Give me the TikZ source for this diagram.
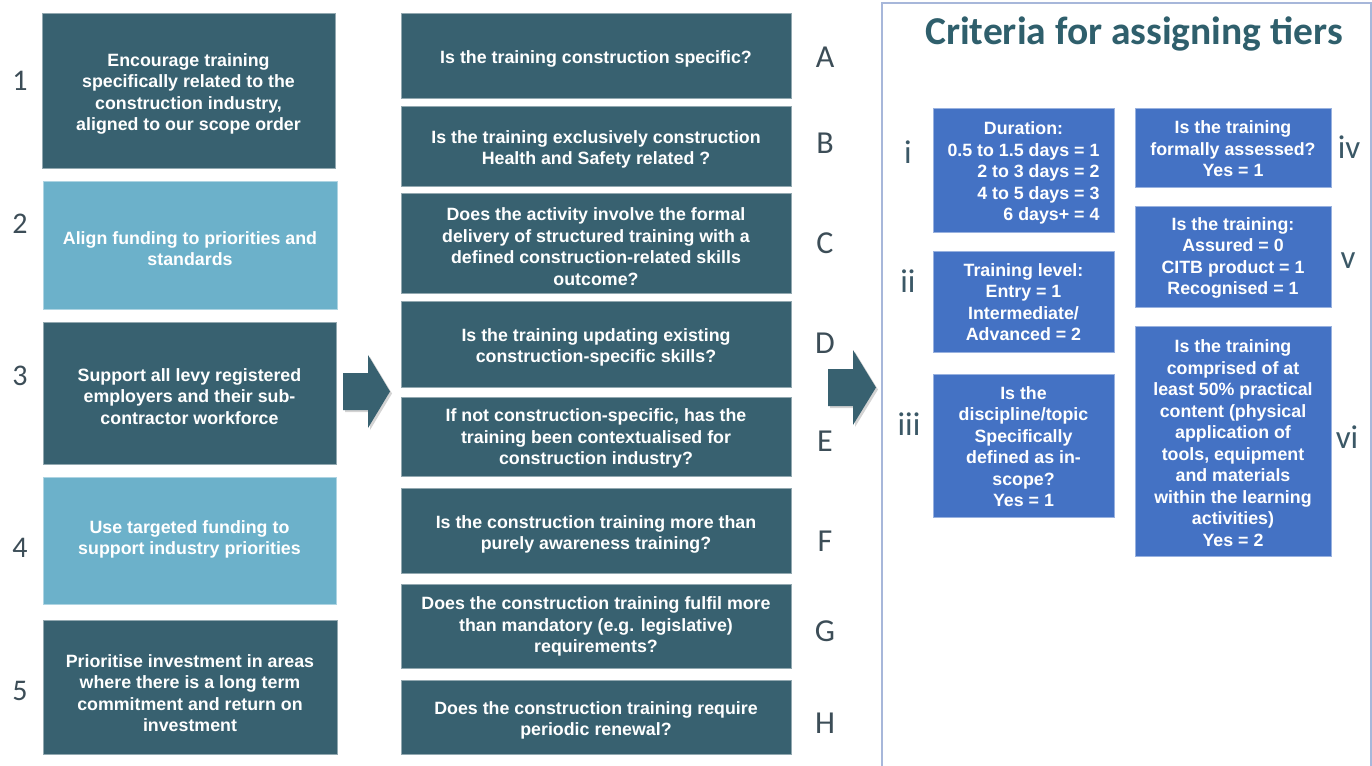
\documentclass[tikz,border=0pt]{standalone}
\usepackage{fontspec}
\setmainfont{Liberation Sans}
\newfontfamily\calib{Carlito}
\usetikzlibrary{shadows}
\definecolor{darkteal}{HTML}{386170}
\definecolor{lightteal}{HTML}{6CB1CA}
\definecolor{tierblue}{HTML}{4472C4}
\definecolor{titlecol}{HTML}{2F5F6C}
\definecolor{numcol}{HTML}{3C4D57}
\definecolor{romcol}{HTML}{3B5866}
\definecolor{panelborder}{HTML}{A7B7DA}
\begin{document}
\begin{tikzpicture}[x=1pt,y=-1pt,
  basebox/.style={rectangle, inner sep=0pt, line width=0.7pt},
  dbox/.style={basebox, fill=darkteal, draw=darkteal!55!white},
  lbox/.style={basebox, fill=lightteal, draw=lightteal!55!white},
  tbox/.style={basebox, fill=tierblue, draw=tierblue!55!white},
  boxtext/.style={inner sep=0pt, align=center, text=white,
    font=\bfseries\fontsize{17.8}{21.5}\selectfont},
  numlab/.style={anchor=base, text=numcol, font=\calib\fontsize{30}{36}\selectfont, inner sep=0pt},
  letlab/.style={anchor=base, text=numcol, font=\calib\fontsize{32}{38}\selectfont, inner sep=0pt},
  romlab/.style={anchor=base, text=romcol, font=\calib\fontsize{33}{38}\selectfont, inner sep=0pt},
  blockarrow/.style={fill=darkteal, drop shadow={shadow xshift=2pt, shadow yshift=-2pt, opacity=0.35}}
]
\useasboundingbox (0,0) rectangle (1372,765);

% left column
\node[dbox, minimum width=293, minimum height=155] (p1) at (188.5,90.5) {};
\node[boxtext] (p1t) at ([yshift=-3.5pt]p1.center)
  {Encourage training\\specifically related to the\\construction industry,\\aligned to our scope order};
\node[lbox, minimum width=294, minimum height=128] (p2) at (190,245) {};
\node[boxtext] (p2t) at ([yshift=-3.5pt]p2.center)
  {Align funding to priorities and\\standards};
\node[dbox, minimum width=293, minimum height=142] (p3) at (189.5,393) {};
\node[boxtext] (p3t) at ([yshift=-3.5pt]p3.center)
  {Support all levy registered\\employers and their sub-\\contractor workforce};
\node[lbox, minimum width=293, minimum height=127] (p4) at (189.5,540.5) {};
\node[boxtext] (p4t) at ([yshift=1pt]p4.center)
  {Use targeted funding to\\support industry priorities};
\node[dbox, minimum width=294, minimum height=134] (p5) at (190,687) {};
\node[boxtext] (p5t) at ([yshift=-6pt]p5.center)
  {Prioritise investment in areas\\where there is a long term\\commitment and return on\\investment};

\node[numlab] (n1) at (20,91) {1};
\node[numlab] (n2) at (20,233) {2};
\node[numlab] (n3) at (20,385) {3};
\node[numlab] (n4) at (20,557) {4};
\node[numlab] (n5) at (20,700) {5};

% arrow 1
\fill[blockarrow] (343,373) -- (368,373) -- (368,355) -- (390,391.5) -- (368,428) -- (368,410) -- (343,410) -- cycle;

% middle column
\node[dbox, minimum width=390, minimum height=85] (qa) at (596,55.5) {};
\node[boxtext] (qat) at ([yshift=-3.5pt]qa.center) {Is the training construction specific?};
\node[dbox, minimum width=390, minimum height=80] (qb) at (596,146) {};
\node[boxtext] (qbt) at ([yshift=-3.5pt]qb.center)
  {Is the training exclusively construction\\Health and Safety related ?};
\node[dbox, minimum width=390, minimum height=100] (qc) at (596,243) {};
\node[boxtext] (qct) at ([yshift=-3.5pt]qc.center)
  {Does the activity involve the formal\\delivery of structured training with a\\defined construction-related skills\\outcome?};
\node[dbox, minimum width=390, minimum height=86] (qd) at (596,344) {};
\node[boxtext] (qdt) at ([yshift=-3.5pt]qd.center)
  {Is the training updating existing\\construction-specific skills?};
\node[dbox, minimum width=390, minimum height=79] (qe) at (596,436.5) {};
\node[boxtext] (qet) at ([yshift=-2pt]qe.center)
  {If not construction-specific, has the\\training been contextualised for\\construction industry?};
\node[dbox, minimum width=390, minimum height=85] (qf) at (596,530.5) {};
\node[boxtext] (qft) at ([yshift=-4pt]qf.center)
  {Is the construction training more than\\purely awareness training?};
\node[dbox, minimum width=390, minimum height=84] (qg) at (596,626) {};
\node[boxtext] (qgt) at ([yshift=-0.5pt]qg.center)
  {Does the construction training fulfil more\\than mandatory (e.g. legislative)\\requirements?};
\node[dbox, minimum width=390, minimum height=74] (qh) at (596,717) {};
\node[boxtext] (qht) at ([yshift=-3.5pt]qh.center)
  {Does the construction training require\\periodic renewal?};

\node[letlab] (la) at (825,68) {A};
\node[letlab] (lb) at (825,153) {B};
\node[letlab] (lc) at (825,253) {C};
\node[letlab] (ld) at (825,353) {D};
\node[letlab] (le) at (825,451) {E};
\node[letlab] (lf) at (825,551) {F};
\node[letlab] (lg) at (825,641) {G};
\node[letlab] (lh) at (825,733) {H};

% arrow 2
\fill[blockarrow] (828,369) -- (853,369) -- (853,350) -- (876,387.5) -- (853,425) -- (853,406) -- (828,406) -- cycle;

% right panel
\draw[panelborder, line width=1.5pt] (882,3) rectangle (1371,767);
\node[anchor=base, text=titlecol, font=\calib\bfseries\fontsize{39.5}{44}\selectfont, inner sep=0pt] (title) at (1134,45)
  {Criteria for assigning tiers};

\node[tbox, minimum width=181, minimum height=124] (ti) at (1023.5,170) {};
\node[boxtext] (tit) at ([yshift=-3.5pt]ti.center)
  {\begin{tabular}{@{}r@{}}\multicolumn{1}{@{}c@{}}{Duration:}\\0.5 to 1.5 days = 1\\2 to 3 days = 2\\4 to 5 days = 3\\6 days+ = 4\end{tabular}};
\node[tbox, minimum width=181, minimum height=101] (tii) at (1023.5,301.5) {};
\node[boxtext] (tiit) at ([yshift=-0.5pt]tii.center)
  {Training level:\\Entry = 1\\Intermediate/\\Advanced = 2};
\node[tbox, minimum width=181, minimum height=143] (tiii) at (1023.5,445.5) {};
\node[boxtext] (tiiit) at ([yshift=-1pt]tiii.center)
  {Is the\\discipline/topic\\Specifically\\defined as in-\\scope?\\Yes = 1};
\node[tbox, minimum width=196, minimum height=79] (tiv) at (1233,147.5) {};
\node[boxtext] (tivt) at ([yshift=-1.5pt]tiv.center)
  {Is the training\\formally assessed?\\Yes = 1};
\node[tbox, minimum width=196, minimum height=101] (tv) at (1233,256.5) {};
\node[boxtext] (tvt) at ([yshift=-1.5pt]tv.center)
  {Is the training:\\Assured = 0\\CITB product = 1\\Recognised = 1};
\node[tbox, minimum width=196, minimum height=230] (tvi) at (1233,441) {};
\node[boxtext] (tvit) at ([yshift=-2pt]tvi.center)
  {Is the training\\comprised of at\\least 50\% practical\\content (physical\\application of\\tools, equipment\\and materials\\within the learning\\activities)\\Yes = 2};

\node[romlab] (ri) at (908,163) {i};
\node[romlab] (rii) at (908,292) {ii};
\node[romlab] (riii) at (909,435) {iii};
\node[romlab] (riv) at (1349,158) {iv};
\node[romlab] (rv) at (1348,268) {v};
\node[romlab] (rvi) at (1347,448) {vi};
\end{tikzpicture}
\end{document}
